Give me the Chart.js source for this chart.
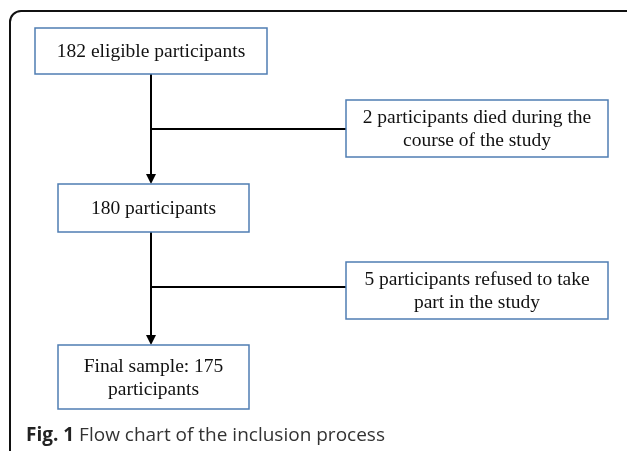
<!DOCTYPE html>
<html>
<head>
<meta charset="utf-8">
<script src="https://cdn.jsdelivr.net/npm/chart.js@4.4.0/dist/chart.umd.min.js"></script>
<style>
  html, body { margin: 0; padding: 0; background: #fff; }
  #wrap { width: 627px; height: 451px; position: relative; }
</style>
</head>
<body>
<div id="wrap"><canvas id="canvas_fluxo"></canvas></div>
<script>
// participant counts at each step and exclusions
var stepCounts = [182, 180, 175];
var stepLabels = [["182 eligible participants"], ["180 participants"], ["Final sample: 175", "participants"]];
var excludedCounts = [2, 5];
var excludedLabels = [["2 participants died during the", "course of the study"], ["5 participants refused to take", "part in the study"]];
var caption = ["Fig. 1", " Flow chart of the inclusion process"];

// layout in page units (x 0-627, y 0-451)
var stepBoxes = [
  { x1: 35, x2: 267, y1: 28, y2: 74 },
  { x1: 58, x2: 249, y1: 184, y2: 232 },
  { x1: 58, x2: 249, y1: 345, y2: 409 }
];
var sideBoxes = [
  { x1: 346, x2: 608, y1: 100, y2: 157 },
  { x1: 346, x2: 608, y1: 262, y2: 319 }
];
var spineX = 151;
var branchY = [129, 287];

var boxColor = "#4f7db3";
var serif = '"Liberation Serif", "Times New Roman", serif';

function centro(b) { return { x: (b.x1 + b.x2) / 2, y: (b.y1 + b.y2) / 2 }; }

var pontos = [];
stepBoxes.forEach(function (b) { pontos.push(centro(b)); });
sideBoxes.forEach(function (b) { pontos.push(centro(b)); });

var fluxo = {
  id: "fluxo",
  afterDatasetsDraw: function (chart) {
    var ctx = chart.ctx;
    var sx = chart.scales.x, sy = chart.scales.y;
    function X(v) { return sx.getPixelForValue(v); }
    function Y(v) { return sy.getPixelForValue(v); }

    ctx.save();
    // frame
    ctx.strokeStyle = "#111";
    ctx.lineWidth = 2;
    ctx.beginPath();
    ctx.moveTo(X(10), Y(451));
    ctx.lineTo(X(10), Y(22));
    ctx.arcTo(X(10), Y(11), X(22), Y(11), 11);
    ctx.lineTo(X(627), Y(11));
    ctx.stroke();

    // spine with arrows
    ctx.strokeStyle = "#000";
    ctx.fillStyle = "#000";
    ctx.lineWidth = 2;
    for (var i = 0; i < stepBoxes.length - 1; i++) {
      var a = stepBoxes[i], b = stepBoxes[i + 1];
      ctx.beginPath();
      ctx.moveTo(X(spineX), Y(a.y2));
      ctx.lineTo(X(spineX), Y(b.y1 - 8));
      ctx.stroke();
      ctx.beginPath();
      ctx.moveTo(X(spineX - 5), Y(b.y1 - 10));
      ctx.lineTo(X(spineX + 5), Y(b.y1 - 10));
      ctx.lineTo(X(spineX), Y(b.y1));
      ctx.closePath();
      ctx.fill();
      ctx.beginPath();
      ctx.moveTo(X(spineX), Y(branchY[i]));
      ctx.lineTo(X(sideBoxes[i].x1), Y(branchY[i]));
      ctx.stroke();
    }

    // boxes
    function caixa(b, linhas) {
      ctx.fillStyle = "#fff";
      ctx.fillRect(X(b.x1), Y(b.y1), X(b.x2) - X(b.x1), Y(b.y2) - Y(b.y1));
      ctx.strokeStyle = boxColor;
      ctx.lineWidth = 1.5;
      ctx.strokeRect(X(b.x1), Y(b.y1), X(b.x2) - X(b.x1), Y(b.y2) - Y(b.y1));
      ctx.fillStyle = "#111";
      ctx.font = "19.5px " + serif;
      ctx.textAlign = "center";
      ctx.textBaseline = "middle";
      var c = centro(b);
      var h = 23;
      var top = c.y - (linhas.length - 1) * h / 2;
      linhas.forEach(function (t, k) {
        ctx.fillText(t, X(c.x), Y(top + k * h) + 1);
      });
    }
    stepBoxes.forEach(function (b, k) { caixa(b, stepLabels[k]); });
    sideBoxes.forEach(function (b, k) { caixa(b, excludedLabels[k]); });

    // caption
    ctx.textAlign = "left";
    ctx.textBaseline = "alphabetic";
    ctx.fillStyle = "#222";
    ctx.font = 'bold 19px "Open Sans", sans-serif';
    ctx.fillText(caption[0], X(26), Y(441));
    var w = ctx.measureText(caption[0]).width;
    ctx.fillStyle = "#333";
    ctx.font = '19px "Open Sans", sans-serif';
    ctx.fillText(caption[1], X(26) + w, Y(441));
    ctx.restore();
  }
};

var ctx = document.getElementById("canvas_fluxo").getContext("2d");
window.fluxo = new Chart(ctx, {
  type: "scatter",
  data: {
    datasets: [{
      data: pontos,
      pointRadius: 0,
      pointHoverRadius: 0
    }]
  },
  options: {
    responsive: true,
    maintainAspectRatio: false,
    animation: false,
    layout: { padding: 0 },
    plugins: { legend: { display: false }, tooltip: { enabled: false } },
    scales: {
      x: { type: "linear", min: 0, max: 627, display: false },
      y: { type: "linear", min: 0, max: 451, reverse: true, display: false }
    }
  },
  plugins: [fluxo]
});
</script>
</body>
</html>
